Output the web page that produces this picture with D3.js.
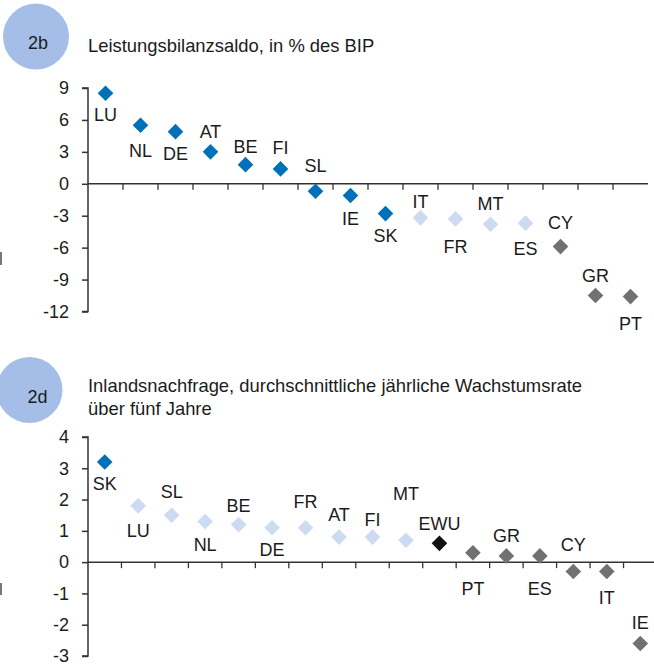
<!DOCTYPE html>
<html><head><meta charset="utf-8">
<script src="https://cdn.jsdelivr.net/npm/d3@7"></script>
<style>
body{margin:0;background:#fff;}
svg{display:block;font-family:"Liberation Sans",Arial,Helvetica,sans-serif;}
</style></head>
<body><svg id="c" width="654" height="667"></svg>
<script>
// ---- Chart 2b data ----
const cats1 = ["LU","NL","DE","AT","BE","FI","SL","IE","SK","IT","FR","MT","ES","CY","GR","PT"];
const vals1 = [8.5,5.5,4.9,3.0,1.8,1.4,-0.7,-1.1,-2.8,-3.2,-3.3,-3.8,-3.7,-5.9,-10.5,-10.6];
const grp1  = ["d","d","d","d","d","d","d","d","d","l","l","l","l","g","g","g"];
const lblDy1 = [28,32,28,-14,-12,-15,-19,30,28,-10,34,-14,32,-18,-14,33];
const ticks1 = [9,6,3,0,-3,-6,-9,-12];
const title1 = ["Leistungsbilanzsaldo, in % des BIP"];

// ---- Chart 2d data ----
const cats2 = ["SK","LU","SL","NL","BE","DE","FR","AT","FI","MT","EWU","PT","GR","ES","CY","IT","IE"];
const vals2 = [3.2,1.8,1.5,1.3,1.2,1.1,1.1,0.8,0.8,0.7,0.6,0.3,0.2,0.2,-0.3,-0.3,-2.6];
const grp2  = ["d","l","l","l","l","l","l","l","l","l","k","g","g","g","g","g","g"];
const lblDy2 = [28,31,-17,30,-13,28,-20,-16,-11,-40,-13,42,-14,39,-21,32,-14];
const ticks2 = [4,3,2,1,0,-1,-2,-3];
const title2 = ["Inlandsnachfrage, durchschnittliche jährliche Wachstumsrate","über fünf Jahre"];

const colors = {d:"#0071B9", l:"#CCDAF2", g:"#717171", k:"#121212"};
const svg = d3.select("#c");
const FS = 18;
const TFS = 18.4;
const txt = "#1b1b1b";

// small marks at left edge
svg.append("rect").attr("x",0).attr("y",252).attr("width",2).attr("height",13).attr("fill","#777");
svg.append("rect").attr("x",0).attr("y",583).attr("width",2).attr("height",12).attr("fill","#777");

function badge(cx, cy, tx, ty, label){
  svg.append("circle").attr("cx",cx).attr("cy",cy).attr("r",33).attr("fill","#A4BEE7");
  svg.append("text").attr("x",tx).attr("y",ty).attr("text-anchor","middle")
    .attr("font-size",FS).attr("fill",txt).text(label);
}

function chart(cfg){
  const x = d3.scaleBand().domain(cfg.cats).range(cfg.xr).paddingInner(0).paddingOuter(0);
  const y = d3.scaleLinear().domain(cfg.yd).range(cfg.yr);
  const g = svg.append("g");
  cfg.title.forEach((t,i)=>{
    g.append("text").attr("x",88).attr("y",cfg.titleY + i*23).attr("font-size",TFS)
      .attr("fill",txt).text(t);
  });
  const ya = d3.axisLeft(y).tickValues(cfg.ticks).tickSize(6).tickPadding(13).tickFormat(d=>String(d));
  const yg = g.append("g").attr("transform",`translate(${cfg.xr[0]},0)`).call(ya);
  yg.select(".domain").attr("stroke","#333").attr("stroke-width",1.5).attr("d",`M-6,${y(cfg.yd[1])}H0V${y(cfg.yd[0])}H-6`);
  yg.selectAll(".tick line").attr("stroke","#333").attr("stroke-width",1.5);
  yg.selectAll(".tick text").attr("font-size",FS).attr("fill",txt)
    .attr("font-family","Liberation Sans,Arial,sans-serif").attr("text-anchor","end");
  const y0 = y(0);
  g.append("line").attr("x1",cfg.xr[0]).attr("x2",cfg.xr[1]).attr("y1",y0).attr("y2",y0)
    .attr("stroke","#333").attr("stroke-width",1.5);
  const bounds = cfg.cats.slice(1).map(c=>x(c));
  g.selectAll(".xt").data(bounds).join("line")
    .attr("x1",d=>d).attr("x2",d=>d).attr("y1",y0).attr("y2",y0+6)
    .attr("stroke","#333").attr("stroke-width",1.3);
  const h = 7.8;
  const dpath = `M0,${-h}L${h},0L0,${h}L${-h},0Z`;
  g.selectAll(".m").data(cfg.cats).join("path")
    .attr("d",dpath)
    .attr("transform",(c,i)=>`translate(${x(c)+x.bandwidth()/2},${y(cfg.vals[i])})`)
    .attr("fill",(c,i)=>colors[cfg.grp[i]]);
  g.selectAll(".l").data(cfg.cats).join("text")
    .attr("x",c=>x(c)+x.bandwidth()/2)
    .attr("y",(c,i)=>y(cfg.vals[i])+cfg.dy[i])
    .attr("text-anchor","middle").attr("font-size",FS).attr("fill",txt)
    .text(c=>c);
}

badge(36,36.5,38,49,"2b");
chart({cats:cats1, vals:vals1, grp:grp1, dy:lblDy1, ticks:ticks1, title:title1,
  xr:[88,648], yd:[-12,9], yr:[311.5,88], titleY:51.5});

badge(29.5,390,37.5,403,"2d");
chart({cats:cats2, vals:vals2, grp:grp2, dy:lblDy2, ticks:ticks2, title:title2,
  xr:[88,657], yd:[-3,4], yr:[656,437], titleY:392});
</script></body></html>
